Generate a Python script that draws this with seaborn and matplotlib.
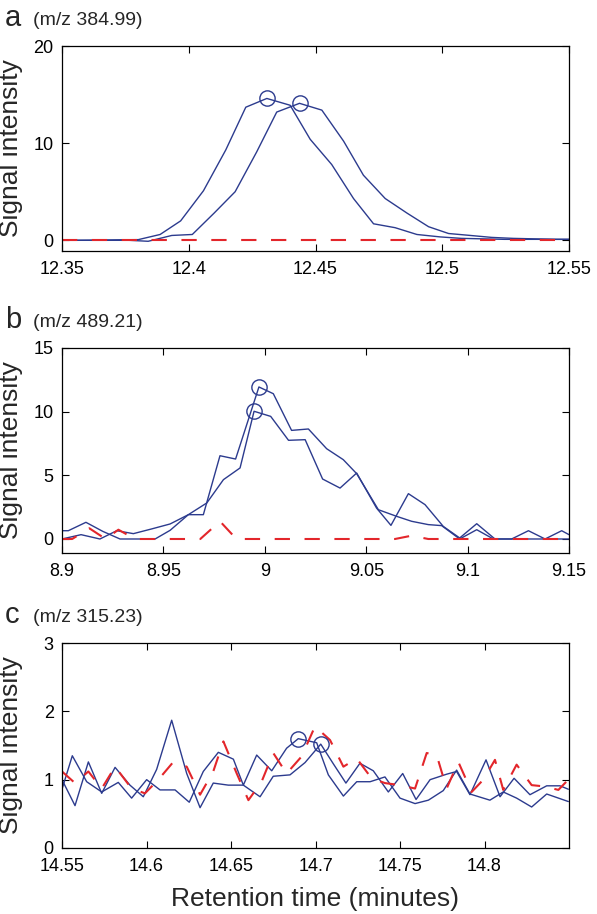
import numpy as np
import seaborn as sns
import matplotlib.pyplot as plt

# ---- panel a, m/z 384.99 ----
a_time1 = [12.350, 12.3550, 12.3634, 12.3718, 12.3801, 12.3887, 12.3968, 12.4058, 12.4146,
           12.4225, 12.4308, 12.4400, 12.4479, 12.4564, 12.4650, 12.4729, 12.4814, 12.4900,
           12.4992, 12.5075, 12.5160, 12.5245, 12.5330, 12.5415, 12.5500]
a_int1 = [0.0, 0.0, 0.02, 0.05, 0.07, 0.6, 2.0, 5.1, 9.3, 13.7, 14.6, 13.9, 10.4, 7.8, 4.3,
          1.7, 1.3, 0.6, 0.35, 0.2, 0.15, 0.1, 0.1, 0.1, 0.1]
a_time2 = [12.350, 12.3590, 12.3680, 12.3765, 12.3840, 12.3933, 12.4014, 12.4100, 12.4183,
           12.4268, 12.4347, 12.4437, 12.4525, 12.4611, 12.4689, 12.4775, 12.4861, 12.4946,
           12.5025, 12.5111, 12.5195, 12.5280, 12.5365, 12.5450, 12.5500]
a_int2 = [0.0, 0.0, 0.0, 0.0, -0.1, 0.5, 0.6, 2.8, 5.0, 9.1, 13.2, 14.1, 13.4, 10.2, 6.7,
          4.3, 2.8, 1.4, 0.7, 0.5, 0.3, 0.2, 0.15, 0.1, 0.1]
a_red_time = [12.35, 12.55]
a_red_int = [0.0, 0.0]
a_peak_time = [12.4308, 12.4437]
a_peak_int = [14.6, 14.1]
a_xticks = [12.35, 12.4, 12.45, 12.5, 12.55]
a_xlabels = ["12.35", "12.4", "12.45", "12.5", "12.55"]
a_yticks = [0, 10, 20]

# ---- panel b, m/z 489.21 ----
b_time1 = [8.9000, 8.9031, 8.9118, 8.9201, 8.9286, 8.9368, 8.9459, 8.9533, 8.9623, 8.9697,
           8.9779, 8.9856, 8.9971, 9.0042, 9.0132, 9.0215, 9.0305, 9.0387, 9.0453, 9.0560,
           9.0650, 9.0724, 9.0806, 9.0872, 9.0961, 9.1045, 9.1127, 9.1217, 9.1300, 9.1382,
           9.1464, 9.1500]
b_int1 = [0.65, 0.65, 1.31, 0.6, 0.0, 0.0, 0.0, 0.68, 1.91, 1.91, 6.54, 6.28, 11.94, 11.41,
          8.53, 8.64, 7.09, 6.23, 5.13, 2.30, 1.78, 1.39, 1.13, 1.05, 0.0, 0.73, 0.0, 0.0,
          0.0, 0.0, 0.0, 0.0]
b_time2 = [8.9000, 8.9094, 8.9187, 8.9270, 8.9352, 8.9442, 8.9533, 8.9623, 8.9714, 8.9796,
           8.9878, 8.9947, 9.0029, 9.0117, 9.0199, 9.0285, 9.0371, 9.0453, 9.0551, 9.0622,
           9.0708, 9.0790, 9.0880, 9.0961, 9.1045, 9.1135, 9.1217, 9.1300, 9.1382, 9.1464,
           9.1500]
b_int2 = [0.0, 0.34, 0.0, 0.65, 0.42, 0.79, 1.18, 1.91, 2.83, 4.66, 5.58, 10.03, 9.63, 7.75,
          7.8, 4.71, 4.0, 5.18, 2.43, 1.07, 3.56, 2.70, 0.99, 0.08, 1.2, 0.0, 0.0, 0.65, 0.0,
          0.65, 0.34]
b_red_time = [8.9000, 8.9050, 8.9135, 8.9215, 8.9278, 8.9360, 8.9682, 8.9779, 8.9860,
              9.0642, 9.0724, 9.0806, 9.1500]
b_red_int = [0.0, 0.0, 0.84, 0.0, 0.73, 0.0, 0.0, 1.39, 0.0, 0.0, 0.26, 0.0, 0.0]
b_peak_time = [8.9971, 8.9947]
b_peak_int = [11.94, 10.03]
b_xticks = [8.9, 8.95, 9.0, 9.05, 9.1, 9.15]
b_xlabels = ["8.9", "8.95", "9", "9.05", "9.1", "9.15"]
b_yticks = [0, 5, 10, 15]

# ---- panel c, m/z 315.23 ----
c_time1 = [14.5500, 14.5561, 14.5646, 14.5735, 14.5833, 14.5912, 14.6001, 14.6080, 14.6169,
           14.6253, 14.6336, 14.6425, 14.6514, 14.6573, 14.6652, 14.6741, 14.6829, 14.6898,
           14.7007, 14.7076, 14.7165, 14.7244, 14.7323, 14.7411, 14.7500, 14.7589, 14.7668,
           14.7756, 14.7835, 14.7914, 14.8032, 14.8111, 14.8190, 14.8279, 14.8368, 14.8496]
c_int1 = [0.86, 1.35, 0.97, 0.82, 0.96, 0.73, 1.00, 0.85, 0.85, 0.67, 1.12, 1.40, 1.30, 0.92,
          1.36, 1.13, 1.46, 1.60, 1.54, 1.07, 0.76, 0.97, 0.97, 1.04, 0.73, 0.65, 0.70, 0.84,
          1.14, 0.79, 0.70, 0.82, 0.73, 0.60, 0.79, 0.68]
c_time2 = [14.5500, 14.5577, 14.5656, 14.5735, 14.5814, 14.5902, 14.5981, 14.6060, 14.6149,
           14.6238, 14.6317, 14.6395, 14.6484, 14.6573, 14.6672, 14.6750, 14.6849, 14.6938,
           14.7031, 14.7106, 14.7180, 14.7263, 14.7342, 14.7431, 14.7516, 14.7595, 14.7678,
           14.7776, 14.7835, 14.7914, 14.8009, 14.8092, 14.8175, 14.8269, 14.8368, 14.8447,
           14.8496]
c_int2 = [1.00, 0.62, 1.26, 0.80, 1.18, 0.92, 0.75, 1.15, 1.87, 1.09, 0.59, 0.95, 0.92, 0.92,
          0.75, 1.05, 1.07, 1.25, 1.52, 1.23, 0.95, 1.24, 1.13, 0.82, 1.09, 0.71, 1.00, 1.08,
          1.12, 0.78, 1.29, 0.75, 1.02, 0.78, 0.91, 0.91, 0.86]
c_red_time = [14.5500, 14.5577, 14.5656, 14.5735, 14.5814, 14.5912, 14.5991, 14.6070, 14.6159,
              14.6238, 14.6317, 14.6395, 14.6455, 14.6534, 14.6603, 14.6681, 14.6750, 14.6829,
              14.6918, 14.6997, 14.7086, 14.7165, 14.7244, 14.7332, 14.7411, 14.7500, 14.7589,
              14.7658, 14.7717, 14.7776, 14.7845, 14.7924, 14.7993, 14.8062, 14.8111, 14.8190,
              14.8279, 14.8358, 14.8437, 14.8496]
c_red_int = [1.12, 0.95, 1.12, 0.87, 1.19, 0.87, 0.80, 1.00, 1.26, 1.19, 0.78, 1.12, 1.56, 1.09,
             0.70, 0.97, 1.39, 1.09, 1.34, 1.78, 1.58, 1.19, 1.31, 1.02, 0.95, 0.92, 0.87, 1.39,
             1.36, 0.87, 1.26, 0.82, 1.00, 1.29, 0.85, 1.22, 0.92, 0.90, 0.85, 1.00]
c_peak_time = [14.6898, 14.7031]
c_peak_int = [1.60, 1.52]
c_xticks = [14.55, 14.6, 14.65, 14.7, 14.75, 14.8]
c_xlabels = ["14.55", "14.6", "14.65", "14.7", "14.75", "14.8"]
c_yticks = [0, 1, 2, 3]

sns.set_style("ticks")
plt.rcParams["font.family"] = ["Liberation Sans", "DejaVu Sans"]
plt.rcParams["lines.scale_dashes"] = False

blue = "#2c3b8e"
red = "#e3262b"
W, H = 597, 914

fig = plt.figure(figsize=(W / 100, H / 100), dpi=100)

panels = [
    ("a", "(m/z 384.99)", 46, a_time1, a_int1, a_time2, a_int2, a_red_time, a_red_int,
     a_peak_time, a_peak_int, a_xticks, a_xlabels, a_yticks, (12.35, 12.55), (-1.1, 20)),
    ("b", "(m/z 489.21)", 348, b_time1, b_int1, b_time2, b_int2, b_red_time, b_red_int,
     b_peak_time, b_peak_int, b_xticks, b_xlabels, b_yticks, (8.9, 9.15), (-1.1, 15)),
    ("c", "(m/z 315.23)", 643, c_time1, c_int1, c_time2, c_int2, c_red_time, c_red_int,
     c_peak_time, c_peak_int, c_xticks, c_xlabels, c_yticks, (14.55, 14.85), (0, 3)),
]

for (letter, mz, top, t1, i1, t2, i2, rt, ri, pt, pi, xt, xl, yt, xlim, ylim) in panels:
    ax = fig.add_axes([62 / W, 1 - (top + 205) / H, 507 / W, 205 / H])
    sns.lineplot(x=t1, y=i1, ax=ax, color=blue, lw=1.0, estimator=None, sort=False)
    sns.lineplot(x=t2, y=i2, ax=ax, color=blue, lw=1.0, estimator=None, sort=False)
    sns.lineplot(x=rt, y=ri, ax=ax, color=red, lw=1.5, estimator=None, sort=False,
                 linestyle=(0, (11, 10.5)))
    ax.plot(pt, pi, "o", ms=11, mfc="none", mec=blue, mew=1.0)
    ax.set_xlim(*xlim)
    ax.set_ylim(*ylim)
    ax.set_xticks(xt, xl)
    ax.set_yticks(yt)
    ax.tick_params(direction="in", length=5, width=0.8, top=True, right=True,
                   labelsize=13, colors="black")
    ax.tick_params(axis="x", pad=7)
    ax.tick_params(axis="y", pad=6)
    for s in ax.spines.values():
        s.set_color("black")
        s.set_linewidth(0.9)
    ax.set_ylabel("Signal intensity", fontsize=19)
    ax.yaxis.set_label_coords(-0.077, 0.5)
    fig.text(5 / W, 1 - (top - 20) / H, letter, fontsize=21, va="baseline")
    fig.text(33 / W, 1 - (top - 21) / H, mz, fontsize=14, va="baseline")

fig.text(315 / W, 1 - 906 / H, "Retention time (minutes)", fontsize=19,
         ha="center", va="baseline")

fig.savefig("out.png", dpi=100)
